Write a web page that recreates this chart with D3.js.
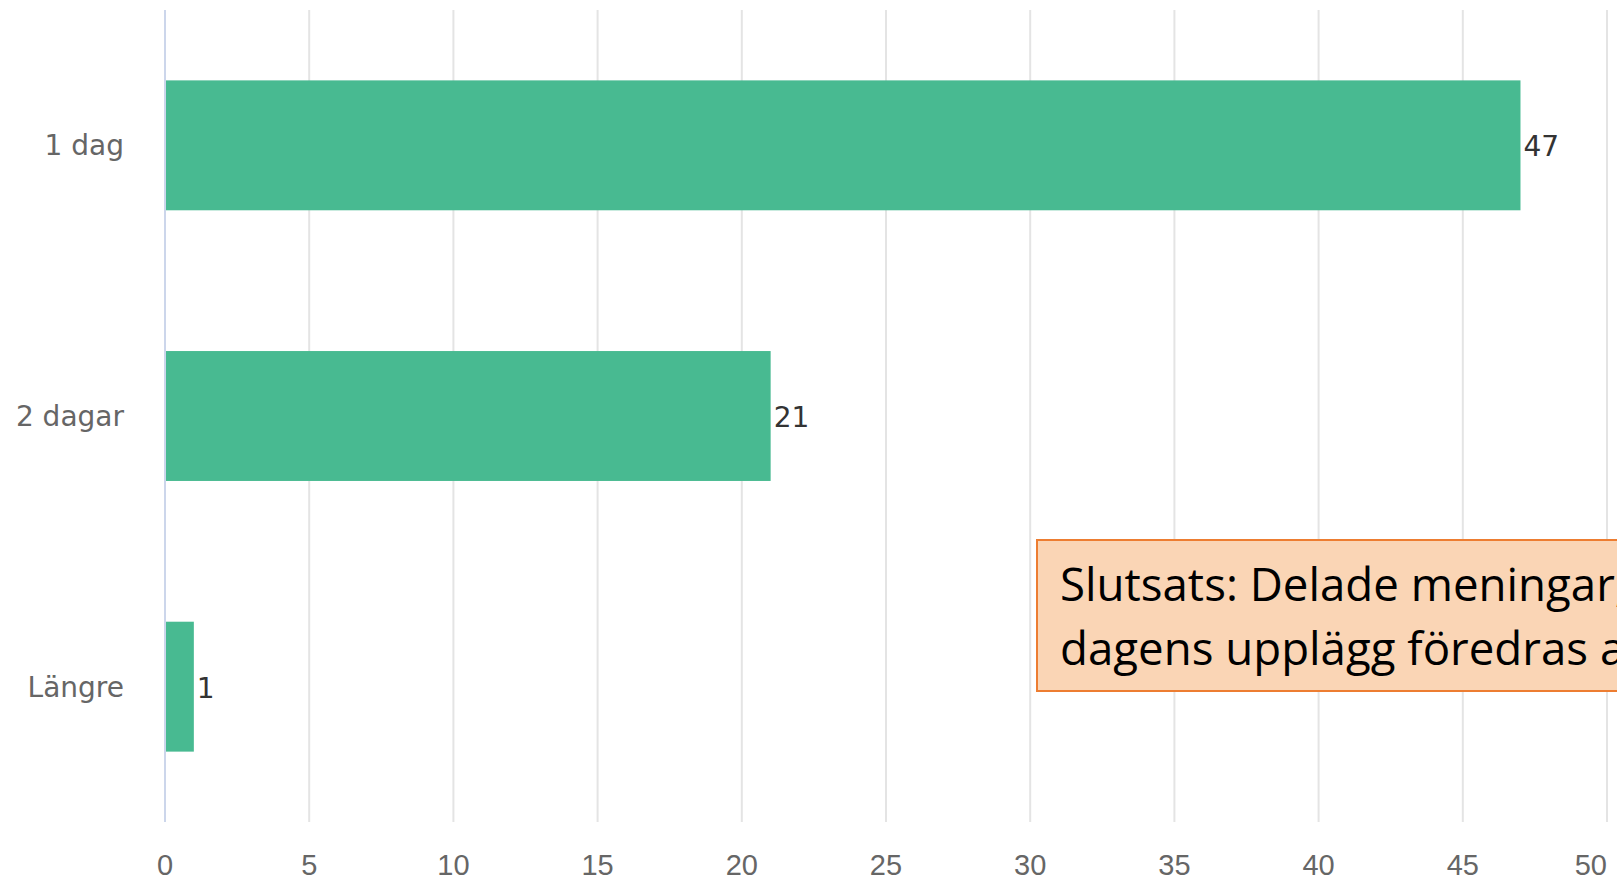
<!DOCTYPE html>
<html>
<head>
<meta charset="utf-8">
<script src="https://cdn.jsdelivr.net/npm/d3@7"></script>
<style>
  html, body { margin: 0; padding: 0; background: #fff; overflow: hidden; }
  svg { display: block; }
</style>
</head>
<body>
<script>
// data
const categories = ['1 dag', '2 dagar', 'Längre'];
const values = [47, 21, 1];
const xTicks = [0, 5, 10, 15, 20, 25, 30, 35, 40, 45, 50];
const noteLines = ['Slutsats: Delade meningar, men 1-', 'dagens upplägg föredras av de flesta'];

const draw = () => {
    const width = 1617,
        height = 881;
    const plot = {left: 165, right: 1607, top: 10, bottom: 822};

    const svg = d3.select('body')
        .append('svg')
        .attr('width', width)
        .attr('height', height);

    const x = d3.scaleLinear()
        .domain([0, 50])
        .range([plot.left, plot.right]);

    const y = d3.scaleBand()
        .domain(categories)
        .range([plot.top, plot.bottom])
        .paddingInner(0.52)
        .paddingOuter(0.26);

    // grid lines
    svg.append('g')
        .selectAll('line')
        .data(xTicks.filter(d => d > 0))
        .enter()
        .append('line')
        .attr('x1', d => x(d))
        .attr('x2', d => x(d))
        .attr('y1', plot.top)
        .attr('y2', plot.bottom)
        .attr('stroke', '#e4e4e4')
        .attr('stroke-width', 2);

    // bottom tick labels
    svg.append('g')
        .selectAll('text')
        .data(xTicks)
        .enter()
        .append('text')
        .attr('x', d => d === 50 ? x(d) : x(d))
        .attr('y', 875)
        .attr('text-anchor', d => d === 50 ? 'end' : 'middle')
        .attr('font-family', 'Liberation Sans, sans-serif')
        .attr('font-size', 29)
        .attr('fill', '#666')
        .text(d => d);

    // bars
    svg.append('g')
        .selectAll('rect')
        .data(values)
        .enter()
        .append('rect')
        .attr('x', x(0))
        .attr('y', (d, i) => y(categories[i]))
        .attr('width', d => x(d) - x(0))
        .attr('height', y.bandwidth())
        .attr('fill', '#48ba91');

    // value labels
    svg.append('g')
        .selectAll('text')
        .data(values)
        .enter()
        .append('text')
        .attr('x', d => x(d) + 3)
        .attr('y', (d, i) => y(categories[i]) + y.bandwidth() / 2 + 11)
        .attr('font-family', 'DejaVu Sans, sans-serif')
        .attr('font-size', 28)
        .attr('fill', '#333')
        .text(d => d);

    // category labels
    svg.append('g')
        .selectAll('text')
        .data(categories)
        .enter()
        .append('text')
        .attr('x', 124)
        .attr('y', d => y(d) + y.bandwidth() / 2 + 10)
        .attr('text-anchor', 'end')
        .attr('font-family', 'DejaVu Sans, sans-serif')
        .attr('font-size', 28)
        .attr('fill', '#666')
        .text(d => d);

    // y axis line
    svg.append('line')
        .attr('x1', x(0))
        .attr('x2', x(0))
        .attr('y1', plot.top)
        .attr('y2', plot.bottom)
        .attr('stroke', '#ccd6eb')
        .attr('stroke-width', 2);

    // note box
    const note = svg.append('g');
    note.append('rect')
        .attr('x', 1037)
        .attr('y', 540)
        .attr('width', 700)
        .attr('height', 151)
        .attr('fill', '#fad5b5')
        .attr('stroke', '#ed7d31')
        .attr('stroke-width', 2);

    const noteText = note.selectAll('text')
        .data(noteLines)
        .enter()
        .append('text')
        .attr('x', 1060)
        .attr('y', (d, i) => 601 + i * 64)
        .attr('font-family', 'Open Sans, sans-serif')
        .attr('font-size', 44)
        .attr('fill', '#000')
        .text(d => d);

    // fit the first line so "Slutsats: Delade meningar" spans about 555px
    const probe = note.append('text')
        .attr('font-family', 'Open Sans, sans-serif')
        .attr('font-size', 44)
        .text('Slutsats: Delade meningar');
    const w = probe.node().getComputedTextLength();
    probe.remove();
    noteText.attr('font-size', 44 * 555 / w);
}

draw();
</script>
</body>
</html>
